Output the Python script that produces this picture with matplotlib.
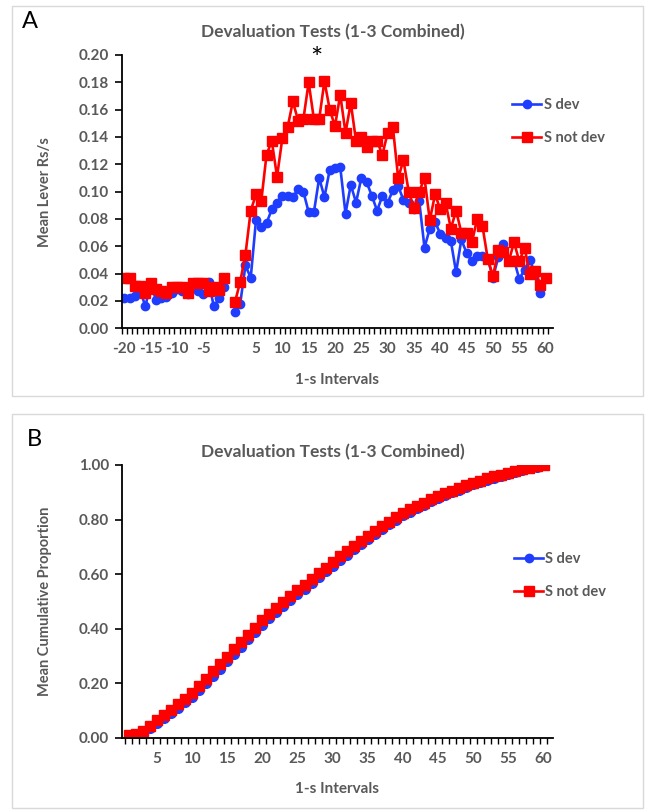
import matplotlib
matplotlib.use("Agg")
import matplotlib.pyplot as plt
from matplotlib.patches import Rectangle
from matplotlib.lines import Line2D

plt.rcParams['font.family'] = ['Lato', 'DejaVu Sans']

# ---- panel A data: mean lever presses per 1-s interval ----
pre_x = list(range(-20, 0))
post_x = list(range(1, 61))

pre_dev = [0.022, 0.022, 0.024, 0.028, 0.016, 0.033, 0.021, 0.022, 0.023, 0.026,
           0.029, 0.027, 0.025, 0.033, 0.027, 0.025, 0.034, 0.016, 0.022, 0.030]
pre_notdev = [0.037, 0.037, 0.031, 0.031, 0.026, 0.033, 0.029, 0.027, 0.026, 0.030,
              0.030, 0.030, 0.026, 0.033, 0.033, 0.033, 0.027, 0.030, 0.028, 0.037]

post_dev = [0.012, 0.018, 0.046, 0.037, 0.079, 0.074, 0.077, 0.087, 0.092, 0.097,
            0.097, 0.096, 0.102, 0.100, 0.085, 0.085, 0.110, 0.096, 0.116, 0.117,
            0.118, 0.084, 0.105, 0.092, 0.110, 0.107, 0.097, 0.086, 0.097, 0.092,
            0.101, 0.104, 0.094, 0.092, 0.087, 0.093, 0.059, 0.073, 0.078, 0.069,
            0.066, 0.064, 0.041, 0.065, 0.055, 0.049, 0.053, 0.053, 0.051, 0.037,
            0.052, 0.062, 0.050, 0.050, 0.036, 0.043, 0.050, 0.040, 0.026, 0.037]
post_notdev = [0.019, 0.034, 0.054, 0.086, 0.098, 0.093, 0.127, 0.137, 0.111, 0.139,
               0.147, 0.166, 0.152, 0.153, 0.180, 0.153, 0.153, 0.181, 0.160, 0.148,
               0.171, 0.143, 0.165, 0.137, 0.140, 0.133, 0.137, 0.137, 0.127, 0.143,
               0.147, 0.110, 0.123, 0.100, 0.088, 0.100, 0.110, 0.079, 0.098, 0.087,
               0.092, 0.073, 0.086, 0.070, 0.070, 0.063, 0.080, 0.075, 0.051, 0.038,
               0.057, 0.056, 0.049, 0.063, 0.049, 0.059, 0.040, 0.042, 0.032, 0.037]

# ---- panel B data: mean cumulative proportion ----
cum_dev = [0.005, 0.010, 0.019, 0.036, 0.055, 0.073, 0.091, 0.110, 0.130, 0.151,
           0.175, 0.200, 0.226, 0.253, 0.280, 0.307, 0.334, 0.361, 0.388, 0.414,
           0.438, 0.461, 0.483, 0.505, 0.526, 0.547, 0.568, 0.589, 0.610, 0.631,
           0.651, 0.671, 0.691, 0.710, 0.729, 0.747, 0.765, 0.782, 0.799, 0.815,
           0.829, 0.842, 0.855, 0.867, 0.878, 0.889, 0.900, 0.910, 0.920, 0.929,
           0.938, 0.946, 0.954, 0.961, 0.968, 0.975, 0.982, 0.988, 0.994, 1.000]
cum_notdev = [0.010, 0.014, 0.024, 0.044, 0.065, 0.083, 0.102, 0.122, 0.143, 0.165,
              0.190, 0.216, 0.243, 0.270, 0.297, 0.324, 0.351, 0.378, 0.404, 0.430,
              0.453, 0.475, 0.497, 0.519, 0.540, 0.561, 0.582, 0.603, 0.624, 0.645,
              0.665, 0.684, 0.703, 0.722, 0.740, 0.758, 0.775, 0.792, 0.809, 0.825,
              0.838, 0.850, 0.862, 0.874, 0.885, 0.896, 0.906, 0.916, 0.926, 0.935,
              0.943, 0.951, 0.958, 0.965, 0.972, 0.978, 0.984, 0.989, 0.995, 1.000]

top_ticks = [-20, -15, -10, -5, 5, 10, 15, 20, 25, 30, 35, 40, 45, 50, 55, 60]
bot_ticks = [5, 10, 15, 20, 25, 30, 35, 40, 45, 50, 55, 60]

BLUE = '#1f3dff'
RED = '#ff0000'
GRAY = '#595959'

W, H = 645, 811
fig = plt.figure(figsize=(W / 100, H / 100), dpi=100)

def fx(px):
    return px / W

def fy(py):
    return 1 - py / H

# light chart-area frames
fig.patches.append(Rectangle((fx(12), fy(396)), fx(631), 390 / H, transform=fig.transFigure,
                             fill=False, edgecolor='#d9d9d9', lw=1))
fig.patches.append(Rectangle((fx(12), fy(808)), fx(631), 394 / H, transform=fig.transFigure,
                             fill=False, edgecolor='#d9d9d9', lw=1))


def style_axes(ax):
    for s in ['top', 'right']:
        ax.spines[s].set_visible(False)
    for s in ['left', 'bottom']:
        ax.spines[s].set_linewidth(1.3)
        ax.spines[s].set_color('black')
    ax.tick_params(axis='y', which='major', direction='out', length=5, width=1.2,
                   labelsize=11, labelcolor=GRAY, pad=4)
    ax.tick_params(axis='x', which='major', length=0, labelsize=11, labelcolor=GRAY, pad=10)
    ax.tick_params(axis='x', which='minor', direction='out', length=4, width=1)
    for lab in ax.get_xticklabels() + ax.get_yticklabels():
        lab.set_fontweight('bold')


def add_legend(ax, anchor):
    handles = [Line2D([], [], **mk_dev), Line2D([], [], **mk_nd)]
    leg = ax.legend(handles, ['S dev', 'S not dev'], loc='upper left',
                    bbox_to_anchor=anchor, frameon=False, handlelength=2.0,
                    handletextpad=0.15, labelspacing=1.3,
                    prop={'size': 10.5, 'weight': 'bold'})
    for t in leg.get_texts():
        t.set_color(GRAY)


mk_dev = dict(color=BLUE, marker='o', markersize=6, lw=1.9)
mk_nd = dict(color=RED, marker='s', markersize=6.5, lw=1.9)

# ---------------- Panel A ----------------
ax1 = fig.add_axes([fx(121.7), fy(328.3), fx(553 - 121.7), (328.3 - 55) / H])
ax1.plot(pre_x, pre_dev, **mk_dev)
ax1.plot(post_x, post_dev, **mk_dev)
ax1.plot(pre_x, pre_notdev, **mk_nd)
ax1.plot(post_x, post_notdev, **mk_nd)
ax1.set_xlim(-20.5, 61.4)
ax1.set_ylim(0, 0.2)
ax1.set_yticks([i / 50 for i in range(11)])
ax1.set_yticklabels(['%.2f' % (i / 50) for i in range(11)])
ax1.set_xticks(top_ticks)
ax1.set_xticklabels([str(t) for t in top_ticks])
ax1.set_xticks([i + 0.5 for i in range(-21, 61)], minor=True)
style_axes(ax1)
ax1.set_xlabel('1-s Intervals', fontsize=11, fontweight='bold', color=GRAY, labelpad=12)
ax1.set_ylabel('Mean Lever Rs/s', fontsize=10.5, fontweight='bold', color=GRAY, labelpad=19)
ax1.text(16.5, 0.1965, '*', fontsize=21, ha='center', va='center', clip_on=False)
fig.text(fx(333), fy(32), 'Devaluation Tests (1-3 Combined)', fontsize=12.5,
         fontweight='bold', color=GRAY, ha='center', va='center')
add_legend(ax1, (0.875, 0.89))
fig.text(fx(22), fy(22), 'A', fontsize=17, ha='left', va='center')

# ---------------- Panel B ----------------
ax2 = fig.add_axes([fx(121.7), fy(737.7), fx(552.7 - 121.7), (737.7 - 465) / H])
ax2.plot(post_x, cum_dev, color=BLUE, marker='o', markersize=7, lw=1.9)
ax2.plot(post_x, cum_notdev, color=RED, marker='s', markersize=7.5, lw=1.9)
ax2.set_xlim(0, 61.3)
ax2.set_ylim(0, 1.0)
ax2.set_yticks([0, 0.2, 0.4, 0.6, 0.8, 1.0])
ax2.set_yticklabels(['0.00', '0.20', '0.40', '0.60', '0.80', '1.00'])
ax2.set_xticks(bot_ticks)
ax2.set_xticklabels([str(t) for t in bot_ticks])
ax2.set_xticks([i + 0.5 for i in range(0, 61)], minor=True)
style_axes(ax2)
ax2.set_xlabel('1-s Intervals', fontsize=11, fontweight='bold', color=GRAY, labelpad=12)
ax2.set_ylabel('Mean Cumulative Proportion', fontsize=10.5, fontweight='bold', color=GRAY,
               labelpad=19)
fig.text(fx(333), fy(452), 'Devaluation Tests (1-3 Combined)', fontsize=12.5,
         fontweight='bold', color=GRAY, ha='center', va='center')
add_legend(ax2, (0.88, 0.73))
fig.text(fx(27), fy(439), 'B', fontsize=17, ha='left', va='center')

fig.savefig('out.png', dpi=100)
